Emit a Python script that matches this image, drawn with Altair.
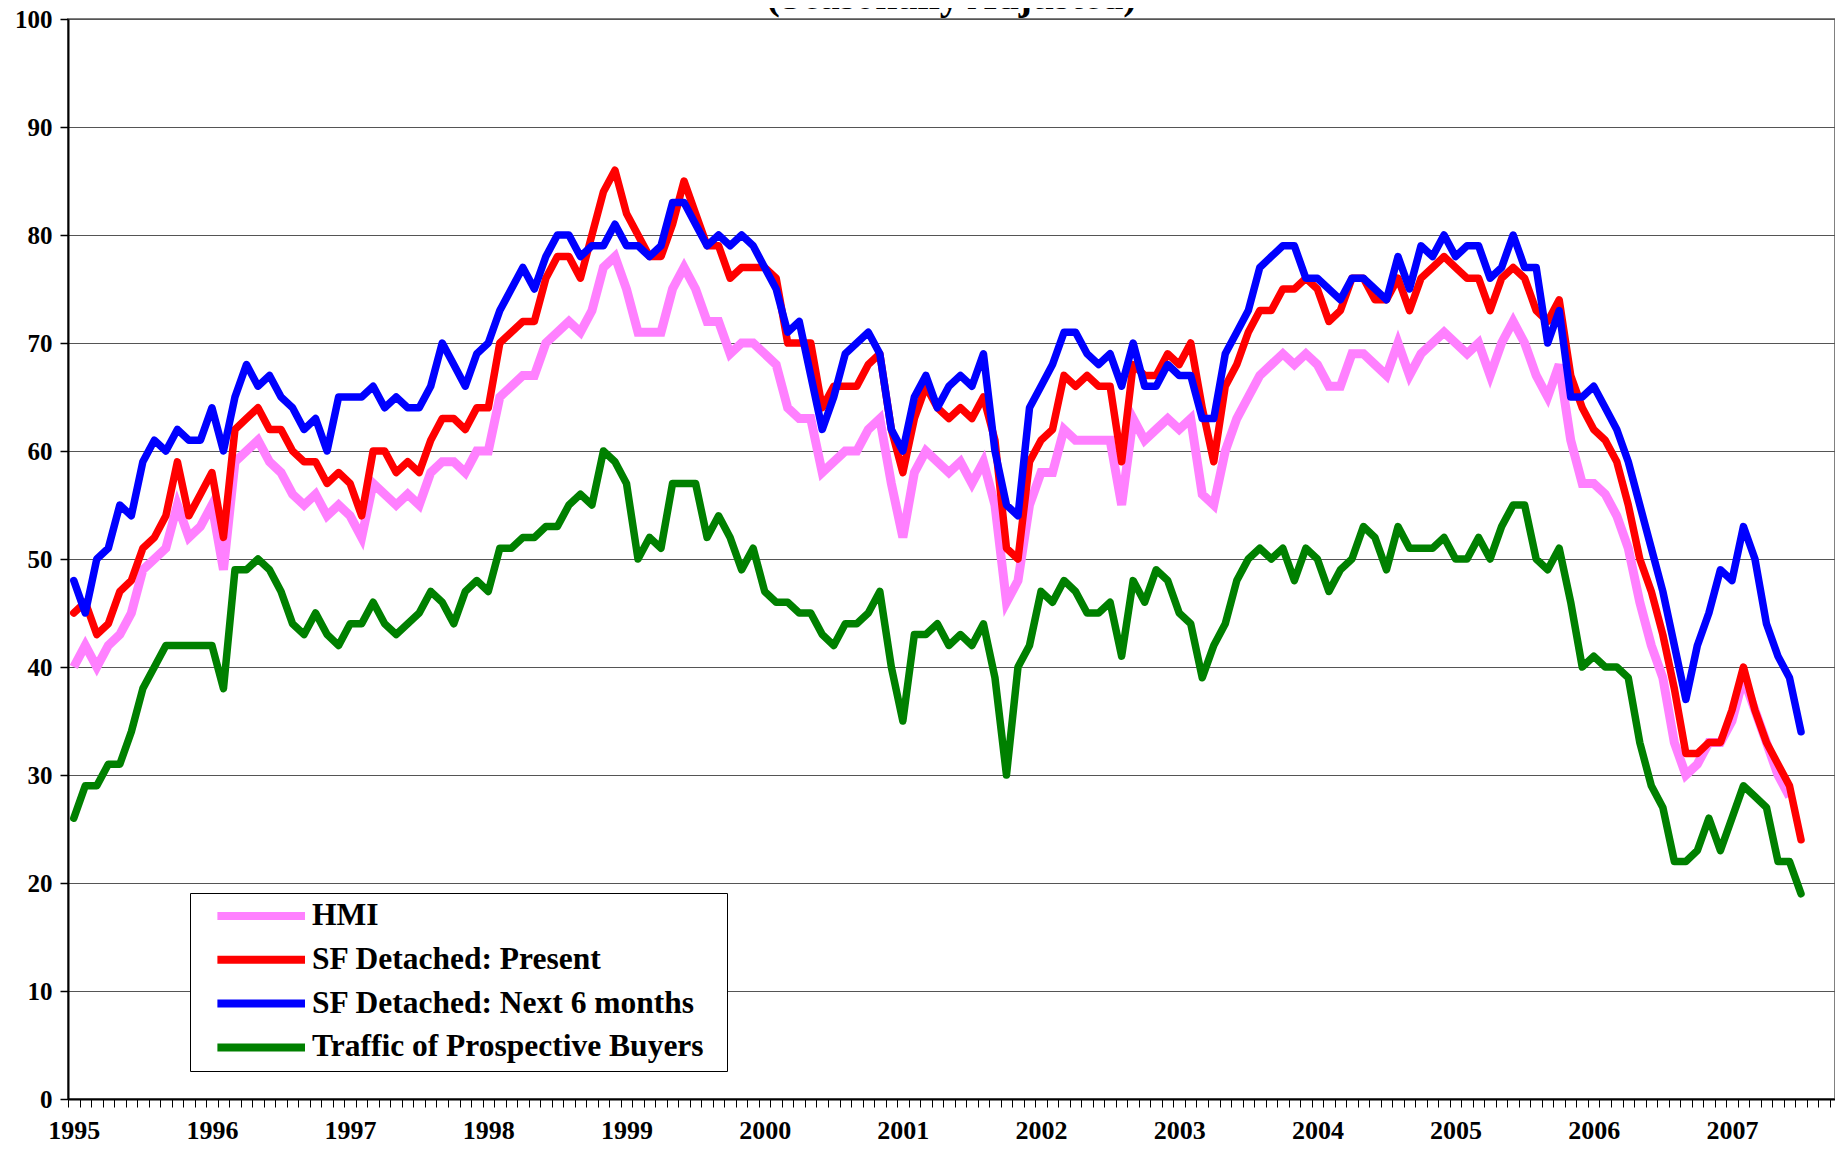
import altair as alt
import pandas as pd

# ---------------- data ----------------
series_names = ["HMI", "SF Detached: Present", "SF Detached: Next 6 months",
                "Traffic of Prospective Buyers"]
series_colors = ["#FF80FF", "#FF0000", "#0000FF", "#008000"]
chart_title = "(Seasonally Adjusted)"

years = [str(y) for y in range(1995, 2008)]
month_names = ["Jan", "Feb", "Mar", "Apr", "May", "Jun",
               "Jul", "Aug", "Sep", "Oct", "Nov", "Dec"]
# category axis: Jan 1995 ... Oct 2007
months = [f"{m} {y}" for y in years for m in month_names][:154]

hmi = [40, 42, 40, 42, 43, 45, 49, 50, 51, 55, 52, 53, 55, 49, 59, 60, 61, 59, 58, 56,
       55, 56, 54, 55, 54, 52, 57, 56, 55, 56, 55, 58, 59, 59, 58, 60, 60, 65,
       66, 67, 67, 70, 71, 72, 71, 73, 77, 78, 75, 71, 71, 71, 75, 77, 75, 72, 72, 69,
       70, 70, 69, 68, 64, 63, 63, 58, 59, 60, 60, 62, 63, 57, 52, 58, 60, 59,
       58, 59, 57, 59, 55, 46, 48, 55, 58, 58, 62, 61, 61, 61, 61, 55, 63, 61, 62, 63,
       62, 63, 56, 55, 60, 63, 65, 67, 68, 69, 68, 69, 68, 66, 66, 69, 69, 68,
       67, 70, 67, 69, 70, 71, 70, 69, 70, 67, 70, 72, 70, 67, 65, 68, 61, 57, 57, 56,
       54, 51, 46, 42, 39, 33, 30, 31, 33, 33, 35, 39, 36, 33, 30, 28]

sf_present = [45, 46, 43, 44, 47, 48, 51, 52, 54, 59, 54, 56, 58, 52, 62, 63, 64, 62, 62, 60,
              59, 59, 57, 58, 57, 54, 60, 60, 58, 59, 58, 61, 63, 63, 62, 64, 64, 70,
              71, 72, 72, 76, 78, 78, 76, 80, 84, 86, 82, 80, 78, 78, 81, 85, 82, 79, 79, 76,
              77, 77, 77, 76, 70, 70, 70, 64, 66, 66, 66, 68, 69, 62, 58, 63, 66, 64,
              63, 64, 63, 65, 61, 51, 50, 59, 61, 62, 67, 66, 67, 66, 66, 59, 68, 67, 67, 69,
              68, 70, 64, 59, 66, 68, 71, 73, 73, 75, 75, 76, 75, 72, 73, 76, 76, 74,
              74, 76, 73, 76, 77, 78, 77, 76, 76, 73, 76, 77, 76, 73, 72, 74, 67, 64, 62, 61,
              59, 55, 50, 47, 43, 38, 32, 32, 33, 33, 36, 40, 36, 33, 31, 29, 24]

sf_next6 = [48, 45, 50, 51, 55, 54, 59, 61, 60, 62, 61, 61, 64, 60, 65, 68, 66, 67, 65, 64,
            62, 63, 60, 65, 65, 65, 66, 64, 65, 64, 64, 66, 70, 68, 66, 69, 70, 73,
            75, 77, 75, 78, 80, 80, 78, 79, 79, 81, 79, 79, 78, 79, 83, 83, 81, 79, 80, 79,
            80, 79, 77, 75, 71, 72, 67, 62, 65, 69, 70, 71, 69, 62, 60, 65, 67, 64,
            66, 67, 66, 69, 60, 55, 54, 64, 66, 68, 71, 71, 69, 68, 69, 66, 70, 66, 66, 68,
            67, 67, 63, 63, 69, 71, 73, 77, 78, 79, 79, 76, 76, 75, 74, 76, 76, 75,
            74, 78, 75, 79, 78, 80, 78, 79, 79, 76, 77, 80, 77, 77, 70, 73, 65, 65, 66, 64,
            62, 59, 55, 51, 47, 42, 37, 42, 45, 49, 48, 53, 50, 44, 41, 39, 34]

traffic = [26, 29, 29, 31, 31, 34, 38, 40, 42, 42, 42, 42, 42, 38, 49, 49, 50, 49, 47, 44,
           43, 45, 43, 42, 44, 44, 46, 44, 43, 44, 45, 47, 46, 44, 47, 48, 47, 51,
           51, 52, 52, 53, 53, 55, 56, 55, 60, 59, 57, 50, 52, 51, 57, 57, 57, 52, 54, 52,
           49, 51, 47, 46, 46, 45, 45, 43, 42, 44, 44, 45, 47, 40, 35, 43, 43, 44,
           42, 43, 42, 44, 39, 30, 40, 42, 47, 46, 48, 47, 45, 45, 46, 41, 48, 46, 49, 48,
           45, 44, 39, 42, 44, 48, 50, 51, 50, 51, 48, 51, 50, 47, 49, 50, 53, 52,
           49, 53, 51, 51, 51, 52, 50, 50, 52, 50, 53, 55, 55, 50, 49, 51, 46, 40, 41, 40,
           40, 39, 33, 29, 27, 22, 22, 23, 26, 23, 26, 29, 28, 27, 22, 22, 19]

y_ticks = list(range(0, 101, 10))

# ---------------- table ----------------
rows = []
for name, vals in zip(series_names, [hmi, sf_present, sf_next6, traffic]):
    for i, v in enumerate(vals):
        rows.append({"idx": i, "month": months[i], "value": v, "series": name})
df = pd.DataFrame(rows)

# the page leaves 1827px for the svg: the plot runs to the right edge of it
PLOT_W = 1767
PLOT_H = 1080
SLOT_PX = 11.515                      # width of one month category
x_max = -0.5 + PLOT_W / SLOT_PX       # the visible end of the category axis
boundaries = [k - 0.5 for k in range(len(months) + 1) if k - 0.5 <= x_max]
year_array = "[" + ",".join(f"'{y}'" for y in years) + "]"
x_label_expr = f"{year_array}[(datum.value + 0.5) / 12] || ''"

FONT = "Liberation Serif"

x_enc = alt.X(
    "idx:Q",
    scale=alt.Scale(domain=[-0.5, x_max], nice=False, zero=False),
    axis=alt.Axis(
        values=boundaries, labelExpr=x_label_expr, labelOffset=SLOT_PX / 2,
        labelFlush=False, labelOverlap=False, labelBound=False,
        labelFont=FONT, labelFontSize=26, labelFontWeight="bold", labelColor="#000000",
        labelPadding=10, tickSize=8, tickColor="#000000", tickWidth=1,
        domainColor="#000000", domainWidth=2, grid=False, title=None,
    ),
)
y_enc = alt.Y(
    "value:Q",
    scale=alt.Scale(domain=[0, 100], nice=False, zero=True),
    axis=alt.Axis(
        values=y_ticks, labelFont=FONT, labelFontSize=25, labelFontWeight="bold",
        labelColor="#000000", labelPadding=8, tickSize=8, tickColor="#000000",
        tickWidth=1.5, domainColor="#000000", domainWidth=2, grid=True,
        gridColor="#555555", gridWidth=1, title=None,
    ),
)
color_enc = alt.Color(
    "series:N",
    scale=alt.Scale(domain=series_names, range=series_colors),
    legend=alt.Legend(
        title=None, orient="none", legendX=122, legendY=874, direction="vertical",
        symbolType="M-1.3,0H6", symbolSize=576, symbolStrokeWidth=8, symbolOffset=20,
        labelOffset=63, labelFont=FONT, labelFontSize=31.5, labelFontWeight="bold",
        labelColor="#000000", labelLimit=800,
        labelExpr="datum.label + '\u00a0\u00a0\u200b'",
        padding=7, rowPadding=11.8, fillColor="#FFFFFF", strokeColor="#000000",
    ),
)

base = alt.Chart(df).encode(x=x_enc, y=y_enc, color=color_enc, order=alt.Order("idx:Q"))

layers = []
for name in series_names:
    if name == "HMI":
        mk = dict(strokeWidth=9, strokeCap="butt", strokeJoin="miter")
    else:
        mk = dict(strokeWidth=7.5, strokeCap="round", strokeJoin="round")
    layers.append(base.transform_filter(alt.datum.series == name).mark_line(**mk))

# chart title: it sits above the plot and runs off the top of the page, as in the reference
title_layer = alt.Chart(pd.DataFrame({"t": [chart_title]})).mark_text(
    font=FONT, fontSize=40, fontWeight="bold", color="#000000",
    align="center", baseline="alphabetic",
).encode(text="t:N", x=alt.value(PLOT_W / 2), y=alt.value(-10))

chart = alt.layer(*layers, title_layer).properties(
    width=PLOT_W,
    height=PLOT_H,
    autosize=alt.AutoSizeParams(type="none"),
    padding={"left": 60, "top": 11, "right": 0, "bottom": 44},
    background="#FFFFFF",
).configure_view(stroke="#808080", strokeWidth=2)

chart.save("out.html", embed_options={"renderer": "svg", "actions": False})
